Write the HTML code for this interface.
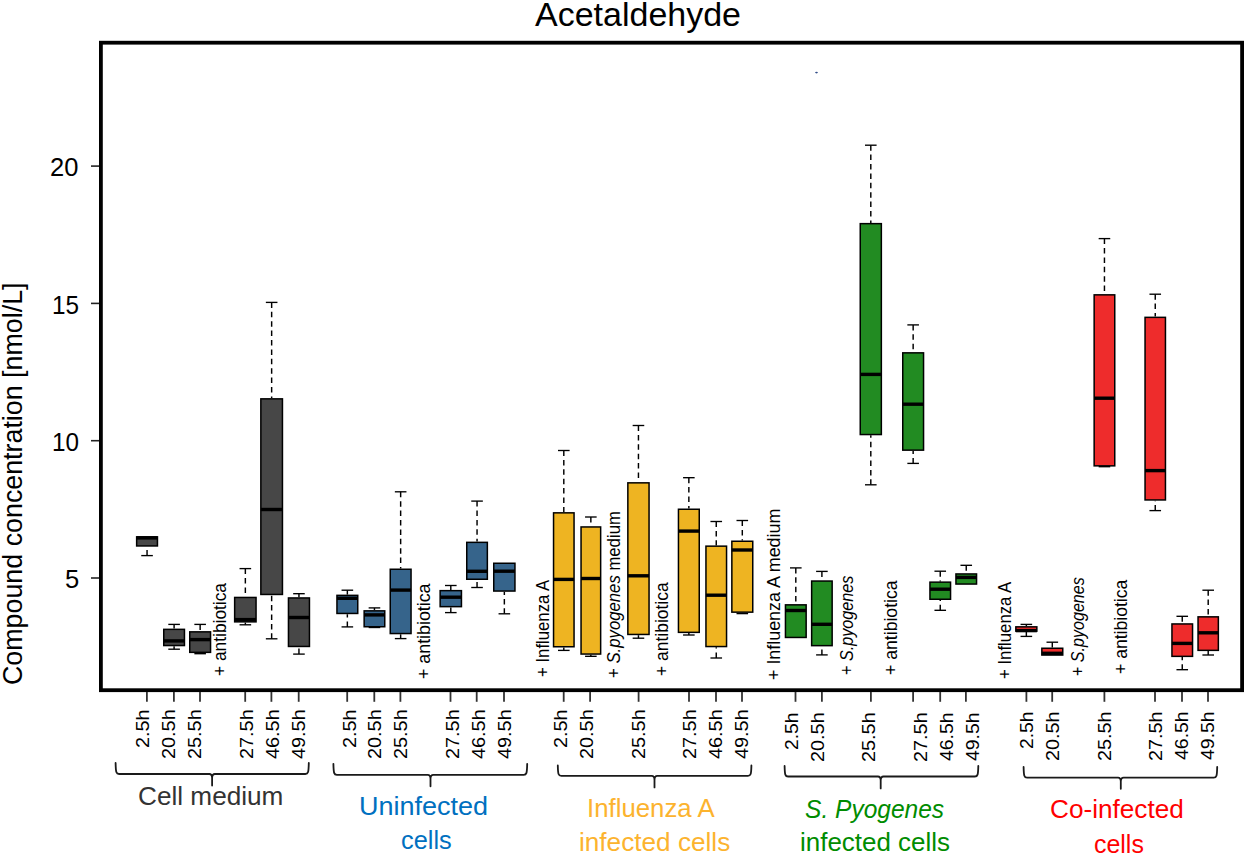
<!DOCTYPE html>
<html><head><meta charset="utf-8"><title>Acetaldehyde</title>
<style>html,body{margin:0;padding:0;background:#fff;}svg{display:block;} text{font-family:"Liberation Sans", sans-serif;}</style>
</head><body>
<svg width="1245" height="854" viewBox="0 0 1245 854">
<rect x="0" y="0" width="1245" height="854" fill="#fff"/>
<line x1="91" y1="166.10" x2="100" y2="166.10" stroke="#222" stroke-width="1.6"/>
<line x1="91" y1="303.40" x2="100" y2="303.40" stroke="#222" stroke-width="1.6"/>
<line x1="91" y1="440.70" x2="100" y2="440.70" stroke="#222" stroke-width="1.6"/>
<line x1="91" y1="578.00" x2="100" y2="578.00" stroke="#222" stroke-width="1.6"/>
<line x1="147.05" y1="555.60" x2="147.05" y2="546.70" stroke="#000" stroke-width="1.45" stroke-dasharray="5.5 3.9"/>
<line x1="141.25" y1="555.60" x2="152.85" y2="555.60" stroke="#000" stroke-width="1.35"/>
<rect x="136.65" y="536.85" width="20.80" height="9.10" fill="#474747" stroke="#000" stroke-width="1.50"/>
<line x1="136.65" y1="537.90" x2="157.45" y2="537.90" stroke="#000" stroke-width="3.40"/>
<line x1="174.10" y1="624.40" x2="174.10" y2="628.60" stroke="#000" stroke-width="1.45" stroke-dasharray="5.5 3.9"/>
<line x1="174.10" y1="649.20" x2="174.10" y2="646.30" stroke="#000" stroke-width="1.45" stroke-dasharray="5.5 3.9"/>
<line x1="168.30" y1="624.40" x2="179.90" y2="624.40" stroke="#000" stroke-width="1.35"/>
<line x1="168.30" y1="649.20" x2="179.90" y2="649.20" stroke="#000" stroke-width="1.35"/>
<rect x="163.75" y="629.35" width="20.70" height="16.20" fill="#474747" stroke="#000" stroke-width="1.50"/>
<line x1="163.75" y1="640.90" x2="184.45" y2="640.90" stroke="#000" stroke-width="3.40"/>
<line x1="200.15" y1="624.40" x2="200.15" y2="631.10" stroke="#000" stroke-width="1.45" stroke-dasharray="5.5 3.9"/>
<line x1="200.15" y1="653.70" x2="200.15" y2="653.10" stroke="#000" stroke-width="1.45" stroke-dasharray="5.5 3.9"/>
<line x1="194.35" y1="624.40" x2="205.95" y2="624.40" stroke="#000" stroke-width="1.35"/>
<line x1="194.35" y1="653.70" x2="205.95" y2="653.70" stroke="#000" stroke-width="1.35"/>
<rect x="189.75" y="631.85" width="20.80" height="20.50" fill="#474747" stroke="#000" stroke-width="1.50"/>
<line x1="189.75" y1="639.60" x2="210.55" y2="639.60" stroke="#000" stroke-width="3.40"/>
<line x1="245.35" y1="568.60" x2="245.35" y2="596.70" stroke="#000" stroke-width="1.45" stroke-dasharray="5.5 3.9"/>
<line x1="245.35" y1="624.80" x2="245.35" y2="622.60" stroke="#000" stroke-width="1.45" stroke-dasharray="5.5 3.9"/>
<line x1="239.55" y1="568.60" x2="251.15" y2="568.60" stroke="#000" stroke-width="1.35"/>
<line x1="239.55" y1="624.80" x2="251.15" y2="624.80" stroke="#000" stroke-width="1.35"/>
<rect x="234.65" y="597.45" width="21.40" height="24.40" fill="#474747" stroke="#000" stroke-width="1.50"/>
<line x1="234.65" y1="619.60" x2="256.05" y2="619.60" stroke="#000" stroke-width="3.40"/>
<line x1="271.65" y1="302.40" x2="271.65" y2="398.10" stroke="#000" stroke-width="1.45" stroke-dasharray="5.5 3.9"/>
<line x1="271.65" y1="638.80" x2="271.65" y2="595.20" stroke="#000" stroke-width="1.45" stroke-dasharray="5.5 3.9"/>
<line x1="265.85" y1="302.40" x2="277.45" y2="302.40" stroke="#000" stroke-width="1.35"/>
<line x1="265.85" y1="638.80" x2="277.45" y2="638.80" stroke="#000" stroke-width="1.35"/>
<rect x="260.85" y="398.85" width="21.60" height="195.60" fill="#474747" stroke="#000" stroke-width="1.50"/>
<line x1="260.85" y1="509.50" x2="282.45" y2="509.50" stroke="#000" stroke-width="3.40"/>
<line x1="298.95" y1="593.70" x2="298.95" y2="597.20" stroke="#000" stroke-width="1.45" stroke-dasharray="5.5 3.9"/>
<line x1="298.95" y1="654.10" x2="298.95" y2="647.20" stroke="#000" stroke-width="1.45" stroke-dasharray="5.5 3.9"/>
<line x1="293.15" y1="593.70" x2="304.75" y2="593.70" stroke="#000" stroke-width="1.35"/>
<line x1="293.15" y1="654.10" x2="304.75" y2="654.10" stroke="#000" stroke-width="1.35"/>
<rect x="288.45" y="597.95" width="21.00" height="48.50" fill="#474747" stroke="#000" stroke-width="1.50"/>
<line x1="288.45" y1="617.50" x2="309.45" y2="617.50" stroke="#000" stroke-width="3.40"/>
<line x1="347.35" y1="590.20" x2="347.35" y2="594.60" stroke="#000" stroke-width="1.45" stroke-dasharray="5.5 3.9"/>
<line x1="347.35" y1="626.90" x2="347.35" y2="614.20" stroke="#000" stroke-width="1.45" stroke-dasharray="5.5 3.9"/>
<line x1="341.55" y1="590.20" x2="353.15" y2="590.20" stroke="#000" stroke-width="1.35"/>
<line x1="341.55" y1="626.90" x2="353.15" y2="626.90" stroke="#000" stroke-width="1.35"/>
<rect x="336.95" y="595.35" width="20.80" height="18.10" fill="#36648B" stroke="#000" stroke-width="1.50"/>
<line x1="336.95" y1="598.30" x2="357.75" y2="598.30" stroke="#000" stroke-width="3.40"/>
<line x1="374.45" y1="607.90" x2="374.45" y2="610.10" stroke="#000" stroke-width="1.45" stroke-dasharray="5.5 3.9"/>
<line x1="368.65" y1="607.90" x2="380.25" y2="607.90" stroke="#000" stroke-width="1.35"/>
<line x1="368.65" y1="627.50" x2="380.25" y2="627.50" stroke="#000" stroke-width="1.35"/>
<rect x="364.15" y="610.85" width="20.60" height="15.90" fill="#36648B" stroke="#000" stroke-width="1.50"/>
<line x1="364.15" y1="614.90" x2="384.75" y2="614.90" stroke="#000" stroke-width="3.40"/>
<line x1="400.65" y1="491.80" x2="400.65" y2="568.50" stroke="#000" stroke-width="1.45" stroke-dasharray="5.5 3.9"/>
<line x1="400.65" y1="638.60" x2="400.65" y2="634.30" stroke="#000" stroke-width="1.45" stroke-dasharray="5.5 3.9"/>
<line x1="394.85" y1="491.80" x2="406.45" y2="491.80" stroke="#000" stroke-width="1.35"/>
<line x1="394.85" y1="638.60" x2="406.45" y2="638.60" stroke="#000" stroke-width="1.35"/>
<rect x="390.25" y="569.25" width="20.80" height="64.30" fill="#36648B" stroke="#000" stroke-width="1.50"/>
<line x1="390.25" y1="590.10" x2="411.05" y2="590.10" stroke="#000" stroke-width="3.40"/>
<line x1="450.80" y1="585.50" x2="450.80" y2="589.90" stroke="#000" stroke-width="1.45" stroke-dasharray="5.5 3.9"/>
<line x1="450.80" y1="612.60" x2="450.80" y2="607.40" stroke="#000" stroke-width="1.45" stroke-dasharray="5.5 3.9"/>
<line x1="445.00" y1="585.50" x2="456.60" y2="585.50" stroke="#000" stroke-width="1.35"/>
<line x1="445.00" y1="612.60" x2="456.60" y2="612.60" stroke="#000" stroke-width="1.35"/>
<rect x="440.15" y="590.65" width="21.30" height="16.00" fill="#36648B" stroke="#000" stroke-width="1.50"/>
<line x1="440.15" y1="597.20" x2="461.45" y2="597.20" stroke="#000" stroke-width="3.40"/>
<line x1="477.05" y1="501.10" x2="477.05" y2="541.60" stroke="#000" stroke-width="1.45" stroke-dasharray="5.5 3.9"/>
<line x1="477.05" y1="587.50" x2="477.05" y2="580.00" stroke="#000" stroke-width="1.45" stroke-dasharray="5.5 3.9"/>
<line x1="471.25" y1="501.10" x2="482.85" y2="501.10" stroke="#000" stroke-width="1.35"/>
<line x1="471.25" y1="587.50" x2="482.85" y2="587.50" stroke="#000" stroke-width="1.35"/>
<rect x="466.75" y="542.35" width="20.60" height="36.90" fill="#36648B" stroke="#000" stroke-width="1.50"/>
<line x1="466.75" y1="571.30" x2="487.35" y2="571.30" stroke="#000" stroke-width="3.40"/>
<line x1="504.35" y1="613.80" x2="504.35" y2="591.80" stroke="#000" stroke-width="1.45" stroke-dasharray="5.5 3.9"/>
<line x1="498.55" y1="613.80" x2="510.15" y2="613.80" stroke="#000" stroke-width="1.35"/>
<rect x="493.75" y="563.25" width="21.20" height="27.80" fill="#36648B" stroke="#000" stroke-width="1.50"/>
<line x1="493.75" y1="571.20" x2="514.95" y2="571.20" stroke="#000" stroke-width="3.40"/>
<line x1="563.80" y1="450.50" x2="563.80" y2="512.10" stroke="#000" stroke-width="1.45" stroke-dasharray="5.5 3.9"/>
<line x1="563.80" y1="650.40" x2="563.80" y2="647.50" stroke="#000" stroke-width="1.45" stroke-dasharray="5.5 3.9"/>
<line x1="558.00" y1="450.50" x2="569.60" y2="450.50" stroke="#000" stroke-width="1.35"/>
<line x1="558.00" y1="650.40" x2="569.60" y2="650.40" stroke="#000" stroke-width="1.35"/>
<rect x="553.55" y="512.85" width="20.50" height="133.90" fill="#EEB422" stroke="#000" stroke-width="1.50"/>
<line x1="553.55" y1="579.40" x2="574.05" y2="579.40" stroke="#000" stroke-width="3.40"/>
<line x1="590.85" y1="517.00" x2="590.85" y2="526.20" stroke="#000" stroke-width="1.45" stroke-dasharray="5.5 3.9"/>
<line x1="590.85" y1="656.30" x2="590.85" y2="654.80" stroke="#000" stroke-width="1.45" stroke-dasharray="5.5 3.9"/>
<line x1="585.05" y1="517.00" x2="596.65" y2="517.00" stroke="#000" stroke-width="1.35"/>
<line x1="585.05" y1="656.30" x2="596.65" y2="656.30" stroke="#000" stroke-width="1.35"/>
<rect x="581.05" y="526.95" width="19.60" height="127.10" fill="#EEB422" stroke="#000" stroke-width="1.50"/>
<line x1="581.05" y1="578.50" x2="600.65" y2="578.50" stroke="#000" stroke-width="3.40"/>
<line x1="638.45" y1="425.50" x2="638.45" y2="482.10" stroke="#000" stroke-width="1.45" stroke-dasharray="5.5 3.9"/>
<line x1="638.45" y1="638.20" x2="638.45" y2="635.20" stroke="#000" stroke-width="1.45" stroke-dasharray="5.5 3.9"/>
<line x1="632.65" y1="425.50" x2="644.25" y2="425.50" stroke="#000" stroke-width="1.35"/>
<line x1="632.65" y1="638.20" x2="644.25" y2="638.20" stroke="#000" stroke-width="1.35"/>
<rect x="627.85" y="482.85" width="21.20" height="151.60" fill="#EEB422" stroke="#000" stroke-width="1.50"/>
<line x1="627.85" y1="575.80" x2="649.05" y2="575.80" stroke="#000" stroke-width="3.40"/>
<line x1="688.85" y1="477.70" x2="688.85" y2="508.50" stroke="#000" stroke-width="1.45" stroke-dasharray="5.5 3.9"/>
<line x1="688.85" y1="635.00" x2="688.85" y2="633.10" stroke="#000" stroke-width="1.45" stroke-dasharray="5.5 3.9"/>
<line x1="683.05" y1="477.70" x2="694.65" y2="477.70" stroke="#000" stroke-width="1.35"/>
<line x1="683.05" y1="635.00" x2="694.65" y2="635.00" stroke="#000" stroke-width="1.35"/>
<rect x="678.45" y="509.25" width="20.80" height="123.10" fill="#EEB422" stroke="#000" stroke-width="1.50"/>
<line x1="678.45" y1="531.10" x2="699.25" y2="531.10" stroke="#000" stroke-width="3.40"/>
<line x1="716.25" y1="521.50" x2="716.25" y2="545.40" stroke="#000" stroke-width="1.45" stroke-dasharray="5.5 3.9"/>
<line x1="716.25" y1="658.00" x2="716.25" y2="647.30" stroke="#000" stroke-width="1.45" stroke-dasharray="5.5 3.9"/>
<line x1="710.45" y1="521.50" x2="722.05" y2="521.50" stroke="#000" stroke-width="1.35"/>
<line x1="710.45" y1="658.00" x2="722.05" y2="658.00" stroke="#000" stroke-width="1.35"/>
<rect x="705.95" y="546.15" width="20.60" height="100.40" fill="#EEB422" stroke="#000" stroke-width="1.50"/>
<line x1="705.95" y1="595.20" x2="726.55" y2="595.20" stroke="#000" stroke-width="3.40"/>
<line x1="742.30" y1="520.50" x2="742.30" y2="540.50" stroke="#000" stroke-width="1.45" stroke-dasharray="5.5 3.9"/>
<line x1="742.30" y1="613.60" x2="742.30" y2="612.90" stroke="#000" stroke-width="1.45" stroke-dasharray="5.5 3.9"/>
<line x1="736.50" y1="520.50" x2="748.10" y2="520.50" stroke="#000" stroke-width="1.35"/>
<line x1="736.50" y1="613.60" x2="748.10" y2="613.60" stroke="#000" stroke-width="1.35"/>
<rect x="731.85" y="541.25" width="20.90" height="70.90" fill="#EEB422" stroke="#000" stroke-width="1.50"/>
<line x1="731.85" y1="550.00" x2="752.75" y2="550.00" stroke="#000" stroke-width="3.40"/>
<line x1="795.80" y1="567.90" x2="795.80" y2="604.10" stroke="#000" stroke-width="1.45" stroke-dasharray="5.5 3.9"/>
<line x1="790.00" y1="567.90" x2="801.60" y2="567.90" stroke="#000" stroke-width="1.35"/>
<rect x="785.45" y="604.85" width="20.70" height="32.60" fill="#228B22" stroke="#000" stroke-width="1.50"/>
<line x1="785.45" y1="610.50" x2="806.15" y2="610.50" stroke="#000" stroke-width="3.40"/>
<line x1="821.90" y1="571.40" x2="821.90" y2="580.30" stroke="#000" stroke-width="1.45" stroke-dasharray="5.5 3.9"/>
<line x1="821.90" y1="654.90" x2="821.90" y2="646.40" stroke="#000" stroke-width="1.45" stroke-dasharray="5.5 3.9"/>
<line x1="816.10" y1="571.40" x2="827.70" y2="571.40" stroke="#000" stroke-width="1.35"/>
<line x1="816.10" y1="654.90" x2="827.70" y2="654.90" stroke="#000" stroke-width="1.35"/>
<rect x="811.65" y="581.05" width="20.50" height="64.60" fill="#228B22" stroke="#000" stroke-width="1.50"/>
<line x1="811.65" y1="624.30" x2="832.15" y2="624.30" stroke="#000" stroke-width="3.40"/>
<line x1="870.80" y1="145.20" x2="870.80" y2="222.90" stroke="#000" stroke-width="1.45" stroke-dasharray="5.5 3.9"/>
<line x1="870.80" y1="484.80" x2="870.80" y2="435.30" stroke="#000" stroke-width="1.45" stroke-dasharray="5.5 3.9"/>
<line x1="865.00" y1="145.20" x2="876.60" y2="145.20" stroke="#000" stroke-width="1.35"/>
<line x1="865.00" y1="484.80" x2="876.60" y2="484.80" stroke="#000" stroke-width="1.35"/>
<rect x="860.25" y="223.65" width="21.10" height="210.90" fill="#228B22" stroke="#000" stroke-width="1.50"/>
<line x1="860.25" y1="374.40" x2="881.35" y2="374.40" stroke="#000" stroke-width="3.40"/>
<line x1="913.15" y1="324.90" x2="913.15" y2="352.10" stroke="#000" stroke-width="1.45" stroke-dasharray="5.5 3.9"/>
<line x1="913.15" y1="463.40" x2="913.15" y2="450.90" stroke="#000" stroke-width="1.45" stroke-dasharray="5.5 3.9"/>
<line x1="907.35" y1="324.90" x2="918.95" y2="324.90" stroke="#000" stroke-width="1.35"/>
<line x1="907.35" y1="463.40" x2="918.95" y2="463.40" stroke="#000" stroke-width="1.35"/>
<rect x="902.75" y="352.85" width="20.80" height="97.30" fill="#228B22" stroke="#000" stroke-width="1.50"/>
<line x1="902.75" y1="404.20" x2="923.55" y2="404.20" stroke="#000" stroke-width="3.40"/>
<line x1="940.25" y1="571.20" x2="940.25" y2="581.40" stroke="#000" stroke-width="1.45" stroke-dasharray="5.5 3.9"/>
<line x1="940.25" y1="610.30" x2="940.25" y2="600.00" stroke="#000" stroke-width="1.45" stroke-dasharray="5.5 3.9"/>
<line x1="934.45" y1="571.20" x2="946.05" y2="571.20" stroke="#000" stroke-width="1.35"/>
<line x1="934.45" y1="610.30" x2="946.05" y2="610.30" stroke="#000" stroke-width="1.35"/>
<rect x="929.95" y="582.15" width="20.60" height="17.10" fill="#228B22" stroke="#000" stroke-width="1.50"/>
<line x1="929.95" y1="589.20" x2="950.55" y2="589.20" stroke="#000" stroke-width="3.40"/>
<line x1="966.25" y1="565.30" x2="966.25" y2="573.20" stroke="#000" stroke-width="1.45" stroke-dasharray="5.5 3.9"/>
<line x1="960.45" y1="565.30" x2="972.05" y2="565.30" stroke="#000" stroke-width="1.35"/>
<rect x="955.95" y="573.95" width="20.60" height="10.10" fill="#228B22" stroke="#000" stroke-width="1.50"/>
<line x1="955.95" y1="577.40" x2="976.55" y2="577.40" stroke="#000" stroke-width="3.40"/>
<line x1="1026.35" y1="624.40" x2="1026.35" y2="626.10" stroke="#000" stroke-width="1.45" stroke-dasharray="5.5 3.9"/>
<line x1="1026.35" y1="636.40" x2="1026.35" y2="631.90" stroke="#000" stroke-width="1.45" stroke-dasharray="5.5 3.9"/>
<line x1="1020.55" y1="624.40" x2="1032.15" y2="624.40" stroke="#000" stroke-width="1.35"/>
<line x1="1020.55" y1="636.40" x2="1032.15" y2="636.40" stroke="#000" stroke-width="1.35"/>
<rect x="1015.85" y="626.85" width="21.00" height="4.30" fill="#EE2C2C" stroke="#000" stroke-width="1.50"/>
<line x1="1015.85" y1="630.60" x2="1036.85" y2="630.60" stroke="#000" stroke-width="3.40"/>
<line x1="1052.30" y1="642.20" x2="1052.30" y2="647.50" stroke="#000" stroke-width="1.45" stroke-dasharray="5.5 3.9"/>
<line x1="1046.50" y1="642.20" x2="1058.10" y2="642.20" stroke="#000" stroke-width="1.35"/>
<rect x="1041.85" y="648.25" width="20.90" height="6.80" fill="#EE2C2C" stroke="#000" stroke-width="1.50"/>
<line x1="1041.85" y1="653.30" x2="1062.75" y2="653.30" stroke="#000" stroke-width="3.40"/>
<line x1="1104.45" y1="238.60" x2="1104.45" y2="294.10" stroke="#000" stroke-width="1.45" stroke-dasharray="5.5 3.9"/>
<line x1="1098.65" y1="238.60" x2="1110.25" y2="238.60" stroke="#000" stroke-width="1.35"/>
<line x1="1098.65" y1="466.70" x2="1110.25" y2="466.70" stroke="#000" stroke-width="1.35"/>
<rect x="1094.15" y="294.85" width="20.60" height="171.00" fill="#EE2C2C" stroke="#000" stroke-width="1.50"/>
<line x1="1094.15" y1="398.20" x2="1114.75" y2="398.20" stroke="#000" stroke-width="3.40"/>
<line x1="1155.25" y1="294.20" x2="1155.25" y2="316.60" stroke="#000" stroke-width="1.45" stroke-dasharray="5.5 3.9"/>
<line x1="1155.25" y1="510.60" x2="1155.25" y2="500.70" stroke="#000" stroke-width="1.45" stroke-dasharray="5.5 3.9"/>
<line x1="1149.45" y1="294.20" x2="1161.05" y2="294.20" stroke="#000" stroke-width="1.35"/>
<line x1="1149.45" y1="510.60" x2="1161.05" y2="510.60" stroke="#000" stroke-width="1.35"/>
<rect x="1145.05" y="317.35" width="20.40" height="182.60" fill="#EE2C2C" stroke="#000" stroke-width="1.50"/>
<line x1="1145.05" y1="470.60" x2="1165.45" y2="470.60" stroke="#000" stroke-width="3.40"/>
<line x1="1182.25" y1="616.30" x2="1182.25" y2="623.20" stroke="#000" stroke-width="1.45" stroke-dasharray="5.5 3.9"/>
<line x1="1182.25" y1="669.70" x2="1182.25" y2="657.10" stroke="#000" stroke-width="1.45" stroke-dasharray="5.5 3.9"/>
<line x1="1176.45" y1="616.30" x2="1188.05" y2="616.30" stroke="#000" stroke-width="1.35"/>
<line x1="1176.45" y1="669.70" x2="1188.05" y2="669.70" stroke="#000" stroke-width="1.35"/>
<rect x="1171.95" y="623.95" width="20.60" height="32.40" fill="#EE2C2C" stroke="#000" stroke-width="1.50"/>
<line x1="1171.95" y1="643.40" x2="1192.55" y2="643.40" stroke="#000" stroke-width="3.40"/>
<line x1="1208.20" y1="590.20" x2="1208.20" y2="616.10" stroke="#000" stroke-width="1.45" stroke-dasharray="5.5 3.9"/>
<line x1="1208.20" y1="655.00" x2="1208.20" y2="651.10" stroke="#000" stroke-width="1.45" stroke-dasharray="5.5 3.9"/>
<line x1="1202.40" y1="590.20" x2="1214.00" y2="590.20" stroke="#000" stroke-width="1.35"/>
<line x1="1202.40" y1="655.00" x2="1214.00" y2="655.00" stroke="#000" stroke-width="1.35"/>
<rect x="1198.05" y="616.85" width="20.30" height="33.50" fill="#EE2C2C" stroke="#000" stroke-width="1.50"/>
<line x1="1198.05" y1="632.80" x2="1218.35" y2="632.80" stroke="#000" stroke-width="3.40"/>
<rect x="100.9" y="42.7" width="1141.2" height="647.5" fill="none" stroke="#000" stroke-width="3.8"/>
<line x1="146.90" y1="692" x2="146.90" y2="701.8" stroke="#333" stroke-width="1.8"/>
<line x1="173.90" y1="692" x2="173.90" y2="701.8" stroke="#333" stroke-width="1.8"/>
<line x1="200.00" y1="692" x2="200.00" y2="701.8" stroke="#333" stroke-width="1.8"/>
<line x1="245.20" y1="692" x2="245.20" y2="701.8" stroke="#333" stroke-width="1.8"/>
<line x1="271.40" y1="692" x2="271.40" y2="701.8" stroke="#333" stroke-width="1.8"/>
<line x1="298.70" y1="692" x2="298.70" y2="701.8" stroke="#333" stroke-width="1.8"/>
<line x1="347.20" y1="692" x2="347.20" y2="701.8" stroke="#333" stroke-width="1.8"/>
<line x1="374.30" y1="692" x2="374.30" y2="701.8" stroke="#333" stroke-width="1.8"/>
<line x1="400.40" y1="692" x2="400.40" y2="701.8" stroke="#333" stroke-width="1.8"/>
<line x1="450.50" y1="692" x2="450.50" y2="701.8" stroke="#333" stroke-width="1.8"/>
<line x1="476.70" y1="692" x2="476.70" y2="701.8" stroke="#333" stroke-width="1.8"/>
<line x1="504.00" y1="692" x2="504.00" y2="701.8" stroke="#333" stroke-width="1.8"/>
<line x1="563.70" y1="692" x2="563.70" y2="701.8" stroke="#333" stroke-width="1.8"/>
<line x1="590.10" y1="692" x2="590.10" y2="701.8" stroke="#333" stroke-width="1.8"/>
<line x1="638.60" y1="692" x2="638.60" y2="701.8" stroke="#333" stroke-width="1.8"/>
<line x1="689.00" y1="692" x2="689.00" y2="701.8" stroke="#333" stroke-width="1.8"/>
<line x1="716.00" y1="692" x2="716.00" y2="701.8" stroke="#333" stroke-width="1.8"/>
<line x1="742.00" y1="692" x2="742.00" y2="701.8" stroke="#333" stroke-width="1.8"/>
<line x1="795.50" y1="692" x2="795.50" y2="701.8" stroke="#333" stroke-width="1.8"/>
<line x1="821.90" y1="692" x2="821.90" y2="701.8" stroke="#333" stroke-width="1.8"/>
<line x1="870.90" y1="692" x2="870.90" y2="701.8" stroke="#333" stroke-width="1.8"/>
<line x1="913.10" y1="692" x2="913.10" y2="701.8" stroke="#333" stroke-width="1.8"/>
<line x1="940.20" y1="692" x2="940.20" y2="701.8" stroke="#333" stroke-width="1.8"/>
<line x1="965.90" y1="692" x2="965.90" y2="701.8" stroke="#333" stroke-width="1.8"/>
<line x1="1026.40" y1="692" x2="1026.40" y2="701.8" stroke="#333" stroke-width="1.8"/>
<line x1="1052.20" y1="692" x2="1052.20" y2="701.8" stroke="#333" stroke-width="1.8"/>
<line x1="1104.40" y1="692" x2="1104.40" y2="701.8" stroke="#333" stroke-width="1.8"/>
<line x1="1155.00" y1="692" x2="1155.00" y2="701.8" stroke="#333" stroke-width="1.8"/>
<line x1="1182.00" y1="692" x2="1182.00" y2="701.8" stroke="#333" stroke-width="1.8"/>
<line x1="1208.00" y1="692" x2="1208.00" y2="701.8" stroke="#333" stroke-width="1.8"/>
<ellipse cx="816.5" cy="72.6" rx="1.4" ry="0.8" fill="#34508a"/>
<path d="M115.60,763.00 C115.80,772.50 116.20,774.00 119.10,774.00 L209.30,774.00 C211.30,774.00 212.10,775.20 212.10,778.00 L212.10,785.50 M212.10,778.00 C212.10,775.20 212.90,774.00 214.90,774.00 L305.30,774.00 C308.20,774.00 308.60,772.50 308.80,763.00" fill="none" stroke="#1a1a1a" stroke-width="1.8" stroke-linecap="round" stroke-linejoin="round"/>
<path d="M333.40,763.80 C333.60,773.30 334.00,774.80 336.90,774.80 L427.70,774.80 C429.70,774.80 430.50,776.00 430.50,778.80 L430.50,786.30 M430.50,778.80 C430.50,776.00 431.30,774.80 433.30,774.80 L523.70,774.80 C526.60,774.80 527.00,773.30 527.20,763.80" fill="none" stroke="#1a1a1a" stroke-width="1.8" stroke-linecap="round" stroke-linejoin="round"/>
<path d="M557.80,765.40 C558.00,774.40 558.40,775.90 561.30,775.90 L651.70,775.90 C653.70,775.90 654.50,777.10 654.50,779.90 L654.50,787.40 M654.50,779.90 C654.50,777.10 655.30,775.90 657.30,775.90 L747.90,775.90 C750.80,775.90 751.20,774.40 751.40,765.40" fill="none" stroke="#1a1a1a" stroke-width="1.8" stroke-linecap="round" stroke-linejoin="round"/>
<path d="M784.60,765.90 C784.80,775.00 785.20,776.50 788.10,776.50 L877.90,776.50 C879.90,776.50 880.70,777.70 880.70,780.50 L880.70,788.40 M880.70,780.50 C880.70,777.70 881.50,776.50 883.50,776.50 L974.80,776.50 C977.70,776.50 978.10,775.00 978.30,765.90" fill="none" stroke="#1a1a1a" stroke-width="1.8" stroke-linecap="round" stroke-linejoin="round"/>
<path d="M1023.60,766.90 C1023.80,776.10 1024.20,777.60 1027.10,777.60 L1118.00,777.60 C1120.00,777.60 1120.80,778.80 1120.80,781.60 L1120.80,788.80 M1120.80,781.60 C1120.80,778.80 1121.60,777.60 1123.60,777.60 L1213.70,777.60 C1216.60,777.60 1217.00,776.10 1217.20,766.90" fill="none" stroke="#1a1a1a" stroke-width="1.8" stroke-linecap="round" stroke-linejoin="round"/>
<text id="title" x="535.000" y="26.200" font-size="33.300" fill="#000" textLength="206.010" lengthAdjust="spacingAndGlyphs" xml:space="preserve">Acetaldehyde</text>
<text id="ylab" transform="translate(22.000,685.003) rotate(-90)" font-size="26.800" fill="#000" textLength="402.508" lengthAdjust="spacingAndGlyphs" xml:space="preserve">Compound concentration [nmol/L]</text>
<text id="yt20" x="50.002" y="176.200" font-size="26.500" fill="#000" textLength="28.382" lengthAdjust="spacingAndGlyphs" xml:space="preserve">20</text>
<text id="yt15" x="52.059" y="313.600" font-size="26.500" fill="#000" textLength="26.997" lengthAdjust="spacingAndGlyphs" xml:space="preserve">15</text>
<text id="yt10" x="52.059" y="450.800" font-size="26.500" fill="#000" textLength="26.997" lengthAdjust="spacingAndGlyphs" xml:space="preserve">10</text>
<text id="yt5" x="64.943" y="588.200" font-size="26.500" fill="#000" textLength="14.240" lengthAdjust="spacingAndGlyphs" xml:space="preserve">5</text>
<text id="xl0_0" transform="translate(149.100,748.040) rotate(-90)" font-size="19.000" fill="#000" textLength="38.703" lengthAdjust="spacingAndGlyphs" xml:space="preserve">2.5h</text>
<text id="xl0_1" transform="translate(175.000,759.102) rotate(-90)" font-size="19.000" fill="#000" textLength="49.838" lengthAdjust="spacingAndGlyphs" xml:space="preserve">20.5h</text>
<text id="xl0_2" transform="translate(200.800,759.102) rotate(-90)" font-size="19.000" fill="#000" textLength="49.838" lengthAdjust="spacingAndGlyphs" xml:space="preserve">25.5h</text>
<text id="xl0_3" transform="translate(253.100,759.102) rotate(-90)" font-size="19.000" fill="#000" textLength="49.838" lengthAdjust="spacingAndGlyphs" xml:space="preserve">27.5h</text>
<text id="xl0_4" transform="translate(279.000,759.027) rotate(-90)" font-size="19.000" fill="#000" textLength="49.749" lengthAdjust="spacingAndGlyphs" xml:space="preserve">46.5h</text>
<text id="xl0_5" transform="translate(304.900,759.027) rotate(-90)" font-size="19.000" fill="#000" textLength="49.749" lengthAdjust="spacingAndGlyphs" xml:space="preserve">49.5h</text>
<text id="xl1_0" transform="translate(355.500,748.040) rotate(-90)" font-size="19.000" fill="#000" textLength="38.703" lengthAdjust="spacingAndGlyphs" xml:space="preserve">2.5h</text>
<text id="xl1_1" transform="translate(381.000,759.102) rotate(-90)" font-size="19.000" fill="#000" textLength="49.838" lengthAdjust="spacingAndGlyphs" xml:space="preserve">20.5h</text>
<text id="xl1_2" transform="translate(407.000,759.102) rotate(-90)" font-size="19.000" fill="#000" textLength="49.838" lengthAdjust="spacingAndGlyphs" xml:space="preserve">25.5h</text>
<text id="xl1_3" transform="translate(458.500,759.102) rotate(-90)" font-size="19.000" fill="#000" textLength="49.838" lengthAdjust="spacingAndGlyphs" xml:space="preserve">27.5h</text>
<text id="xl1_4" transform="translate(485.000,759.027) rotate(-90)" font-size="19.000" fill="#000" textLength="49.749" lengthAdjust="spacingAndGlyphs" xml:space="preserve">46.5h</text>
<text id="xl1_5" transform="translate(510.700,759.027) rotate(-90)" font-size="19.000" fill="#000" textLength="49.749" lengthAdjust="spacingAndGlyphs" xml:space="preserve">49.5h</text>
<text id="xl2_0" transform="translate(566.800,748.040) rotate(-90)" font-size="19.000" fill="#000" textLength="38.703" lengthAdjust="spacingAndGlyphs" xml:space="preserve">2.5h</text>
<text id="xl2_1" transform="translate(593.000,759.102) rotate(-90)" font-size="19.000" fill="#000" textLength="49.838" lengthAdjust="spacingAndGlyphs" xml:space="preserve">20.5h</text>
<text id="xl2_2" transform="translate(644.900,759.102) rotate(-90)" font-size="19.000" fill="#000" textLength="49.838" lengthAdjust="spacingAndGlyphs" xml:space="preserve">25.5h</text>
<text id="xl2_3" transform="translate(696.300,759.102) rotate(-90)" font-size="19.000" fill="#000" textLength="49.838" lengthAdjust="spacingAndGlyphs" xml:space="preserve">27.5h</text>
<text id="xl2_4" transform="translate(722.000,759.027) rotate(-90)" font-size="19.000" fill="#000" textLength="49.749" lengthAdjust="spacingAndGlyphs" xml:space="preserve">46.5h</text>
<text id="xl2_5" transform="translate(748.100,759.027) rotate(-90)" font-size="19.000" fill="#000" textLength="49.749" lengthAdjust="spacingAndGlyphs" xml:space="preserve">49.5h</text>
<text id="xl3_0" transform="translate(798.100,750.059) rotate(-90)" font-size="19.000" fill="#000" textLength="37.657" lengthAdjust="spacingAndGlyphs" xml:space="preserve">2.5h</text>
<text id="xl3_1" transform="translate(823.800,762.063) rotate(-90)" font-size="19.000" fill="#000" textLength="49.749" lengthAdjust="spacingAndGlyphs" xml:space="preserve">20.5h</text>
<text id="xl3_2" transform="translate(875.300,762.063) rotate(-90)" font-size="19.000" fill="#000" textLength="49.749" lengthAdjust="spacingAndGlyphs" xml:space="preserve">25.5h</text>
<text id="xl3_3" transform="translate(927.000,762.063) rotate(-90)" font-size="19.000" fill="#000" textLength="49.749" lengthAdjust="spacingAndGlyphs" xml:space="preserve">27.5h</text>
<text id="xl3_4" transform="translate(953.300,761.034) rotate(-90)" font-size="19.000" fill="#000" textLength="48.713" lengthAdjust="spacingAndGlyphs" xml:space="preserve">46.5h</text>
<text id="xl3_5" transform="translate(979.000,761.034) rotate(-90)" font-size="19.000" fill="#000" textLength="48.713" lengthAdjust="spacingAndGlyphs" xml:space="preserve">49.5h</text>
<text id="xl4_0" transform="translate(1032.900,749.033) rotate(-90)" font-size="19.000" fill="#000" textLength="37.628" lengthAdjust="spacingAndGlyphs" xml:space="preserve">2.5h</text>
<text id="xl4_1" transform="translate(1058.600,761.051) rotate(-90)" font-size="19.000" fill="#000" textLength="49.728" lengthAdjust="spacingAndGlyphs" xml:space="preserve">20.5h</text>
<text id="xl4_2" transform="translate(1111.000,761.051) rotate(-90)" font-size="19.000" fill="#000" textLength="49.728" lengthAdjust="spacingAndGlyphs" xml:space="preserve">25.5h</text>
<text id="xl4_3" transform="translate(1162.400,761.051) rotate(-90)" font-size="19.000" fill="#000" textLength="49.728" lengthAdjust="spacingAndGlyphs" xml:space="preserve">27.5h</text>
<text id="xl4_4" transform="translate(1188.100,760.007) rotate(-90)" font-size="19.000" fill="#000" textLength="48.670" lengthAdjust="spacingAndGlyphs" xml:space="preserve">46.5h</text>
<text id="xl4_5" transform="translate(1213.900,760.007) rotate(-90)" font-size="19.000" fill="#000" textLength="48.670" lengthAdjust="spacingAndGlyphs" xml:space="preserve">49.5h</text>
<text id="an0" transform="translate(225.900,675.995) rotate(-90)" font-size="17.700" fill="#000" textLength="92.987" lengthAdjust="spacingAndGlyphs" xml:space="preserve">+ antibiotica</text>
<text id="an1" transform="translate(430.100,679.006) rotate(-90)" font-size="17.700" fill="#000" textLength="95.507" lengthAdjust="spacingAndGlyphs" xml:space="preserve">+ antibiotica</text>
<text id="an2" transform="translate(548.900,676.975) rotate(-90)" font-size="17.700" fill="#000" textLength="97.134" lengthAdjust="spacingAndGlyphs" xml:space="preserve">+ Influenza A</text>
<text id="an3" transform="translate(619.700,677.958) rotate(-90)" font-size="17.700" fill="#000" textLength="166.824" lengthAdjust="spacingAndGlyphs" xml:space="preserve">+ <tspan font-style="italic">S.pyogenes</tspan> medium</text>
<text id="an4" transform="translate(668.000,675.991) rotate(-90)" font-size="17.700" fill="#000" textLength="93.688" lengthAdjust="spacingAndGlyphs" xml:space="preserve">+ antibiotica</text>
<text id="an5" transform="translate(780.400,680.009) rotate(-90)" font-size="17.700" fill="#000" textLength="171.348" lengthAdjust="spacingAndGlyphs" xml:space="preserve">+ Influenza A medium</text>
<text id="an6" transform="translate(852.500,674.975) rotate(-90)" font-size="17.700" fill="#000" textLength="99.223" lengthAdjust="spacingAndGlyphs" xml:space="preserve">+ <tspan font-style="italic">S.pyogenes</tspan></text>
<text id="an7" transform="translate(897.000,675.001) rotate(-90)" font-size="17.700" fill="#000" textLength="94.600" lengthAdjust="spacingAndGlyphs" xml:space="preserve">+ antibiotica</text>
<text id="an8" transform="translate(1011.300,678.962) rotate(-90)" font-size="17.700" fill="#000" textLength="97.240" lengthAdjust="spacingAndGlyphs" xml:space="preserve">+ Influenza A</text>
<text id="an9" transform="translate(1084.000,675.976) rotate(-90)" font-size="17.700" fill="#000" textLength="98.736" lengthAdjust="spacingAndGlyphs" xml:space="preserve">+ <tspan font-style="italic">S.pyogenes</tspan></text>
<text id="an10" transform="translate(1126.600,674.011) rotate(-90)" font-size="17.700" fill="#000" textLength="94.317" lengthAdjust="spacingAndGlyphs" xml:space="preserve">+ antibiotica</text>
<text id="g0a" x="137.990" y="805.100" font-size="26.000" fill="#333333" textLength="145.427" lengthAdjust="spacingAndGlyphs" xml:space="preserve">Cell medium</text>
<text id="g1a" x="358.922" y="814.500" font-size="26.000" fill="#0070C0" textLength="129.150" lengthAdjust="spacingAndGlyphs" xml:space="preserve">Uninfected</text>
<text id="g1b" x="401.022" y="849.200" font-size="26.000" fill="#0070C0" textLength="50.707" lengthAdjust="spacingAndGlyphs" xml:space="preserve">cells</text>
<text id="g2a" x="586.996" y="817.400" font-size="26.000" fill="#FCB32E" textLength="127.675" lengthAdjust="spacingAndGlyphs" xml:space="preserve">Influenza A</text>
<text id="g2b" x="578.990" y="851.200" font-size="26.000" fill="#FCB32E" textLength="151.236" lengthAdjust="spacingAndGlyphs" xml:space="preserve">infected cells</text>
<text id="g3a" x="805.022" y="817.700" font-size="26.000" fill="#008C00" font-style="italic" textLength="139.126" lengthAdjust="spacingAndGlyphs" xml:space="preserve">S. Pyogenes</text>
<text id="g3b" x="799.995" y="851.200" font-size="26.000" fill="#008C00" textLength="150.018" lengthAdjust="spacingAndGlyphs" xml:space="preserve">infected cells</text>
<text id="g4a" x="1049.988" y="818.100" font-size="26.000" fill="#FF0000" textLength="133.795" lengthAdjust="spacingAndGlyphs" xml:space="preserve">Co-infected</text>
<text id="g4b" x="1094.000" y="852.500" font-size="26.000" fill="#FF0000" textLength="49.883" lengthAdjust="spacingAndGlyphs" xml:space="preserve">cells</text>
</svg>
</body></html>
